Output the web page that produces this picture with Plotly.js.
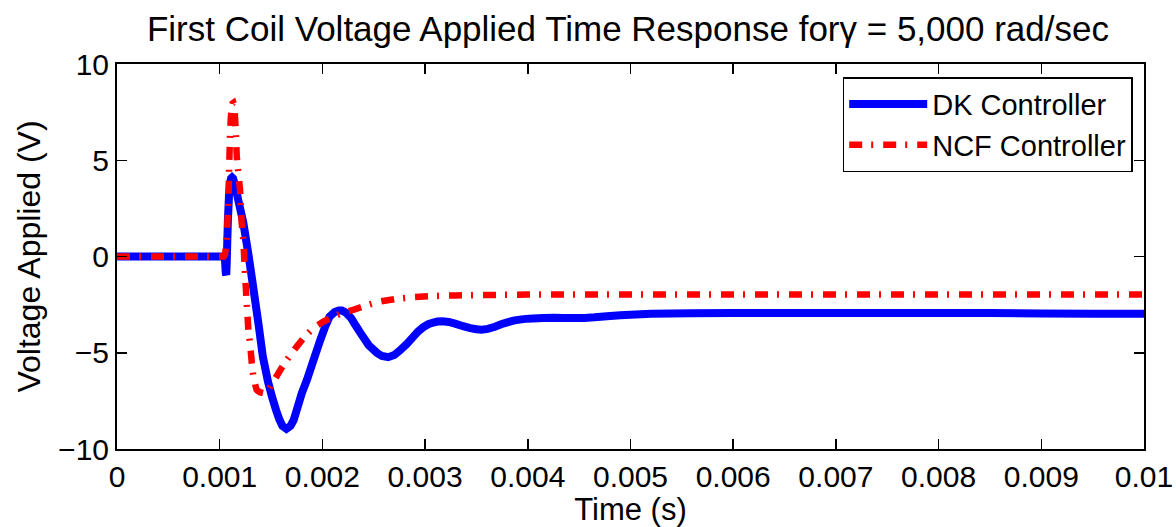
<!DOCTYPE html>
<html>
<head>
<meta charset="utf-8">
<script src="https://cdn.plot.ly/plotly-3.0.1.min.js"></script>
<style>html,body{margin:0;padding:0;background:#fff;}#chart{width:1176px;height:527px;}</style>
</head>
<body>
<div id="chart"></div>
<script>
// Time (s) and voltage (V)
const dkTime = [0, 0.00105, 0.001056, 0.00106, 0.001064, 0.001068, 0.001074, 0.00108, 0.00109, 0.0011, 0.00111, 0.00112, 0.00113, 0.00115, 0.00118, 0.00123, 0.00128, 0.00133, 0.00138, 0.00142, 0.00147, 0.00151, 0.00155, 0.00158, 0.00161, 0.00165, 0.00169, 0.00172, 0.00176, 0.0018, 0.00185, 0.0019, 0.00198, 0.00203, 0.00207, 0.00212, 0.00216, 0.00219, 0.00223, 0.00228, 0.00232, 0.00237, 0.00245, 0.00253, 0.00258, 0.00264, 0.0027, 0.00275, 0.00282, 0.00288, 0.00293, 0.00298, 0.00303, 0.00308, 0.00312, 0.00317, 0.00323, 0.0033, 0.00337, 0.00344, 0.0035, 0.00355, 0.00361, 0.00368, 0.00374, 0.0038, 0.00386, 0.00392, 0.00398, 0.00405, 0.00415, 0.00425, 0.00435, 0.00445, 0.00455, 0.00465, 0.00477, 0.0049, 0.00505, 0.0052, 0.0054, 0.0056, 0.006, 0.0065, 0.007, 0.0075, 0.008, 0.0085, 0.009, 0.0095, 0.01];
const dkVolt = [0, 0, -0.6, -0.9, -0.95, -0.4, 0.8, 1.9, 3.1, 3.8, 4.05, 4.1, 4.05, 3.7, 2.95, 1.75, 0.1, -1.73, -3.6, -5.2, -6.5, -7.3, -8.0, -8.45, -8.8, -8.95, -8.8, -8.5, -7.8, -7.1, -6.4, -5.6, -4.33, -3.6, -3.12, -2.88, -2.8, -2.8, -2.92, -3.2, -3.55, -3.97, -4.6, -5.0, -5.17, -5.23, -5.12, -4.9, -4.55, -4.2, -3.9, -3.68, -3.52, -3.43, -3.38, -3.36, -3.4, -3.5, -3.62, -3.72, -3.78, -3.8, -3.76, -3.65, -3.52, -3.42, -3.33, -3.28, -3.24, -3.22, -3.19, -3.18, -3.19, -3.2, -3.19, -3.16, -3.1, -3.05, -3.01, -2.98, -2.96, -2.95, -2.94, -2.93, -2.93, -2.93, -2.93, -2.94, -2.96, -2.97, -2.97];

const ncfTime = [0, 0.00104, 0.001052, 0.00106, 0.001068, 0.001076, 0.001085, 0.001092, 0.0011, 0.001108, 0.001118, 0.001125, 0.001133, 0.00114, 0.00115, 0.001158, 0.001166, 0.001182, 0.001198, 0.001214, 0.00123, 0.001246, 0.001263, 0.001279, 0.001295, 0.001312, 0.001328, 0.001345, 0.00136, 0.00139, 0.00143, 0.00147, 0.0015, 0.00154, 0.00159, 0.00167, 0.00175, 0.00183, 0.00191, 0.00201, 0.00211, 0.0022, 0.0023, 0.00243, 0.00256, 0.00272, 0.00289, 0.0031, 0.0033, 0.0036, 0.004, 0.005, 0.006, 0.007, 0.008, 0.009, 0.01];
const ncfVolt = [0, 0, 0.1, 0.45, 1.0, 1.9, 2.95, 4.6, 6.24, 7.2, 7.75, 7.95, 7.98, 7.85, 7.2, 6.3, 5.2, 4.3, 3.47, 1.74, 0.87, -0.86, -2.42, -3.81, -4.5, -5.5, -6.24, -6.65, -6.93, -7.05, -7.1, -7.0, -6.7, -6.35, -5.9, -5.25, -4.68, -4.15, -3.72, -3.38, -3.12, -2.93, -2.77, -2.54, -2.34, -2.2, -2.11, -2.05, -2.02, -2.0, -1.98, -1.97, -1.97, -1.97, -1.97, -1.98, -1.98];

const seriesNames = ["DK Controller", "NCF Controller"];
const xTickVals = [0, 0.001, 0.002, 0.003, 0.004, 0.005, 0.006, 0.007, 0.008, 0.009, 0.01];
const xTickText = ["0", "0.001", "0.002", "0.003", "0.004", "0.005", "0.006", "0.007", "0.008", "0.009", "0.01"];
const yTickVals = [-10, -5, 0, 5, 10];
const yTickText = ["\u221210", "\u22125", "0", "5", "10"];

const FONT = "Liberation Sans, Arial, Helvetica, sans-serif";

const traces = [
  {x: dkTime, y: dkVolt, name: seriesNames[0], mode: "lines",
   line: {color: "#0000ff", width: 8, shape: "linear", simplify: false}},
  {x: ncfTime, y: ncfVolt, name: seriesNames[1], mode: "lines",
   line: {color: "#ff0000", width: 6.5, dash: "13px,9px,2px,10px", shape: "linear", simplify: false}}
];

const axisCommon = {
  showline: true, linecolor: "#000", linewidth: 2, mirror: "ticks",
  ticks: "inside", ticklen: 10, tickwidth: 1.5, tickcolor: "#000",
  showgrid: false, zeroline: false,
  tickfont: {family: FONT, size: 30, color: "#000"}
};

const layout = {
  width: 1176, height: 527,
  margin: {l: 117, r: 32, t: 64, b: 78},
  paper_bgcolor: "#fff", plot_bgcolor: "#fff",
  font: {family: FONT, color: "#000"},
  title: {text: "First Coil Voltage Applied Time Response for\u03b3 = 5,000 rad/sec",
          font: {family: FONT, size: 35, color: "#000"},
          x: 0.534, xanchor: "center", y: 0.945, yanchor: "middle"},
  xaxis: Object.assign({}, axisCommon, {
    range: [0, 0.01], tickvals: xTickVals, ticktext: xTickText,
    title: {text: "Time (s)", font: {family: FONT, size: 31, color: "#000"}, standoff: 6}
  }),
  yaxis: Object.assign({}, axisCommon, {
    range: [-10, 10], tickvals: yTickVals, ticktext: yTickText,
    title: {text: "Voltage Applied (V)", font: {family: FONT, size: 32, color: "#000"}, standoff: 8}
  }),
  showlegend: true,
  legend: {x: 0.989, xanchor: "right", y: 0.966, yanchor: "top",
           bgcolor: "#fff", bordercolor: "#000", borderwidth: 1.5,
           font: {family: FONT, size: 29, color: "#000"}, itemwidth: 78}
};

Plotly.newPlot("chart", traces, layout, {displayModeBar: false, staticPlot: true});
</script>
</body>
</html>
